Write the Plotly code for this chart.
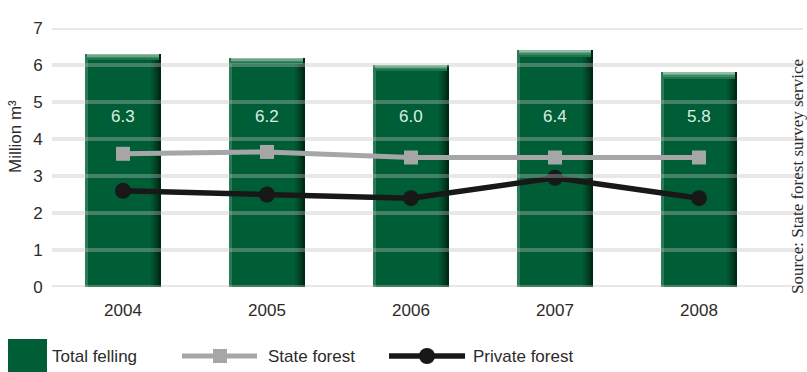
import plotly.graph_objects as go

# Data (million m³)
years = ["2004", "2005", "2006", "2007", "2008"]
total_felling = [6.3, 6.2, 6.0, 6.4, 5.8]
state_forest = [3.6, 3.65, 3.5, 3.5, 3.5]
private_forest = [2.6, 2.5, 2.4, 2.95, 2.4]
y_ticks = [0, 1, 2, 3, 4, 5, 6, 7]

# Figure geometry (pixels)
W, H = 807, 372
PL, PR, PT, PB = 52, 803, 28, 287          # plot area edges
CAT_PX = 144.0                              # width of one category
FIRST_CENTER = 123.0
X_RANGE = [-(FIRST_CENTER - PL) / CAT_PX, 4 + (PR - (FIRST_CENTER + 4 * CAT_PX)) / CAT_PX]
Y_RANGE = [0, 7]
PX_PER_UNIT = (PB - PT) / (Y_RANGE[1] - Y_RANGE[0])

GREEN = "#005e37"
FONT = "Liberation Sans"
TXT = "#2b2b2b"


def px2u(px):
    return px / CAT_PX


def paper_x(px):
    return (px - PL) / (PR - PL)


def paper_y(py):
    return (PB - py) / (PB - PT)


fig = go.Figure()
xs = list(range(len(years)))

# Main bars
half = 38
fig.add_trace(go.Bar(x=xs, y=total_felling, width=px2u(2 * half), offset=-px2u(half),
                     marker=dict(color=GREEN, line=dict(width=0)),
                     hoverinfo="skip", showlegend=False))

# Bevel: lighter left edge
fig.add_trace(go.Bar(x=xs, y=total_felling, width=px2u(3), offset=-px2u(half),
                     marker=dict(color="#2c7a55", line=dict(width=0)),
                     hoverinfo="skip", showlegend=False))
# Bevel: darker right edge
for i, col in enumerate(["#00552f", "#004b29", "#004022", "#00331a", "#002613"]):
    fig.add_trace(go.Bar(x=xs, y=total_felling, width=px2u(2),
                         offset=px2u(half - 10 + 2 * i),
                         marker=dict(color=col, line=dict(width=0)),
                         hoverinfo="skip", showlegend=False))
# Bevel: lighter top edge
strip = 1.5 / PX_PER_UNIT
for k, col in enumerate(["#8fbea6", "#6aa688", "#3f8a66", "#1e744d"]):
    fig.add_trace(go.Bar(x=xs, y=[strip] * len(xs),
                         base=[v - (k + 1) * strip for v in total_felling],
                         width=px2u(2 * half - 4), offset=-px2u(half - 2),
                         marker=dict(color=col, line=dict(width=0)),
                         hoverinfo="skip", showlegend=False))

# Lines
fig.add_trace(go.Scatter(x=xs, y=state_forest, mode="lines+markers",
                         line=dict(color="#a6a6a6", width=5),
                         marker=dict(symbol="square", size=14, color="#a6a6a6"),
                         hoverinfo="skip", showlegend=False))
fig.add_trace(go.Scatter(x=xs, y=private_forest, mode="lines+markers",
                         line=dict(color="#181818", width=5.5),
                         marker=dict(symbol="circle", size=16, color="#181818"),
                         hoverinfo="skip", showlegend=False))

shapes = []
# Horizontal grid lines, drawn translucent over the bars
for t in y_ticks:
    shapes.append(dict(type="line", xref="paper", yref="y", x0=0, x1=1, y0=t, y1=t,
                       line=dict(color="rgba(190,190,190,0.36)", width=4), layer="above"))

annotations = []
# Value labels inside bars
for x, v in zip(xs, total_felling):
    annotations.append(dict(x=x, y=4.6, xref="x", yref="y", text=f"{v:.1f}",
                            showarrow=False, font=dict(family=FONT, size=17, color="#dcede3")))

# Y axis title
annotations.append(dict(x=paper_x(15), y=paper_y(137), xref="paper", yref="paper",
                        xanchor="center", yanchor="middle",
                        text="Million m³", textangle=-90, showarrow=False,
                        font=dict(family=FONT, size=17, color=TXT)))
# Source note
annotations.append(dict(x=paper_x(797), y=paper_y(177), xref="paper", yref="paper",
                        xanchor="center", yanchor="middle",
                        text="Source: State forest survey service", textangle=-90,
                        showarrow=False, font=dict(family="Liberation Serif", size=17, color=TXT)))

# Legend
LY = 356
shapes.append(dict(type="rect", xref="paper", yref="paper",
                   x0=paper_x(8), x1=paper_x(47), y0=paper_y(372), y1=paper_y(339),
                   fillcolor=GREEN, line=dict(width=0)))
legend_texts = [(50, "Total felling"), (266, "State forest"), (471, "Private forest")]
for lx, label in legend_texts:
    annotations.append(dict(x=paper_x(lx), y=paper_y(LY), xref="paper", yref="paper",
                            xanchor="left", yanchor="middle", text=label, showarrow=False,
                            font=dict(family=FONT, size=17, color=TXT)))
shapes.append(dict(type="line", xref="paper", yref="paper",
                   x0=paper_x(182), x1=paper_x(257), y0=paper_y(LY), y1=paper_y(LY),
                   line=dict(color="#a6a6a6", width=5)))
shapes.append(dict(type="rect", xref="paper", yref="paper",
                   x0=paper_x(213), x1=paper_x(227), y0=paper_y(LY + 7), y1=paper_y(LY - 7),
                   fillcolor="#a6a6a6", line=dict(width=0)))
shapes.append(dict(type="line", xref="paper", yref="paper",
                   x0=paper_x(389), x1=paper_x(465), y0=paper_y(LY), y1=paper_y(LY),
                   line=dict(color="#181818", width=5.5)))
shapes.append(dict(type="circle", xref="paper", yref="paper",
                   x0=paper_x(419), x1=paper_x(435), y0=paper_y(LY + 8), y1=paper_y(LY - 8),
                   fillcolor="#181818", line=dict(width=0)))

fig.update_layout(
    width=W, height=H,
    margin=dict(l=PL, r=W - PR, t=PT, b=H - PB, pad=0),
    paper_bgcolor="white", plot_bgcolor="white",
    barmode="overlay", bargap=0,
    shapes=shapes, annotations=annotations,
    xaxis=dict(range=X_RANGE, tickmode="array", tickvals=xs, ticktext=years,
               showgrid=False, zeroline=False, showline=False,
               ticks="outside", ticklen=8, tickcolor="rgba(0,0,0,0)",
               tickfont=dict(family=FONT, size=17, color=TXT)),
    yaxis=dict(range=Y_RANGE, tickmode="array", tickvals=y_ticks,
               showgrid=False, zeroline=False, showline=False,
               ticks="outside", ticklen=5, tickcolor="rgba(0,0,0,0)",
               tickfont=dict(family=FONT, size=17, color=TXT)),
)

fig.write_html("out.html")
